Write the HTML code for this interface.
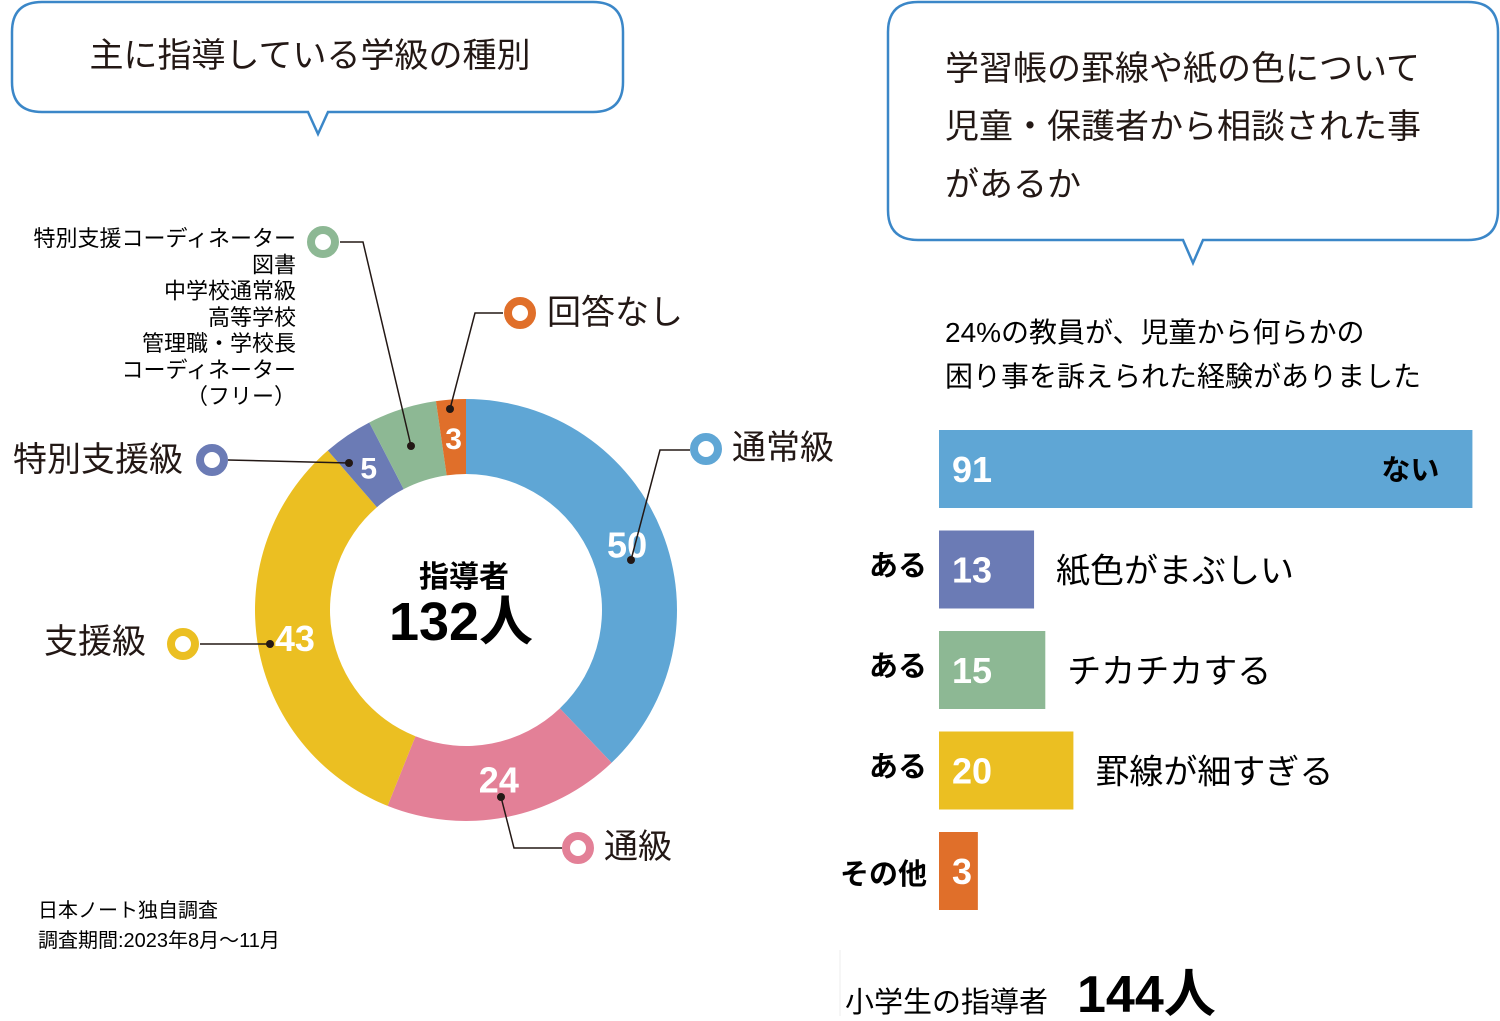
<!DOCTYPE html>
<html><head><meta charset="utf-8">
<style>
body{margin:0;width:1500px;height:1016px;background:#fff;overflow:hidden;font-family:"Liberation Sans","Noto Sans CJK JP",sans-serif;color:#231815}
svg text{font-family:"Liberation Sans","Noto Sans CJK JP",sans-serif}
</style></head><body>
<svg id="chart" width="1500" height="1016">
<g>
<path d="M42,2 H593 Q623,2 623,32 V82 Q623,112 593,112 H328 L318,134 L308,112 H42 Q12,112 12,82 V32 Q12,2 42,2 Z" fill="#fff" stroke="#3b87c8" stroke-width="2.5"/>
<text x="310" y="67" font-size="34" text-anchor="middle" fill="#231815">主に指導している学級の種別</text>
</g>
<g>
<path d="M918,2 H1468 Q1498,2 1498,32 V210 Q1498,240 1468,240 H1203 L1193,263 L1183,240 H918 Q888,240 888,210 V32 Q888,2 918,2 Z" fill="#fff" stroke="#3b87c8" stroke-width="2.5"/>
<text x="945" y="80" font-size="34" fill="#231815">学習帳の罫線や紙の色について</text>
<text x="945" y="138" font-size="34" fill="#231815">児童・保護者から相談された事</text>
<text x="945" y="196" font-size="34" fill="#231815">があるか</text>
</g>
<g id="donut"></g>
<g id="bars"></g>
<text x="945" y="342" font-size="28">24%の教員が、児童から何らかの</text>
<text x="945" y="386" font-size="28">困り事を訴えられた経験がありました</text>
<text x="38" y="917" font-size="20">日本ノート独自調査</text>
<text x="38" y="947" font-size="20">調査期間:2023年8月〜11月</text>
<line x1="840" y1="950" x2="840" y2="1016" stroke="#eee" stroke-width="1"/>
<text x="845" y="1012" font-size="29">小学生の指導者</text>
<text x="1077" y="1012" font-size="52" font-weight="bold">144人</text>
</svg>
<script>
const NS='http://www.w3.org/2000/svg';
function mk(tag,attrs,parent,txt){const e=document.createElementNS(NS,tag);for(const k in attrs)e.setAttribute(k,attrs[k]);if(txt!==undefined)e.textContent=txt;parent.appendChild(e);return e;}

// Donut data
const donutCategories=['通常級','通級','支援級','特別支援級','その他','回答なし'];
const donutValues=[50,24,43,5,7,3];
const donutColors=['#5fa6d5','#e38097','#ebbf22','#6b7bb5','#8db894','#e06f2a'];
const cx=466,cy=610,R=211,r=136;
const dg=document.getElementById('donut');
const total=donutValues.reduce((a,b)=>a+b,0);
function pt(a,rad){return [cx+rad*Math.sin(a),cy-rad*Math.cos(a)];}
let acc=0;
const mids=[];
donutValues.forEach((v,i)=>{
  const a0=acc/total*2*Math.PI;acc+=v;const a1=acc/total*2*Math.PI;
  const large=(a1-a0)>Math.PI?1:0;
  const [x0,y0]=pt(a0,R),[x1,y1]=pt(a1,R),[x2,y2]=pt(a1,r),[x3,y3]=pt(a0,r);
  const p=mk('path',{d:`M${x0},${y0} A${R},${R} 0 ${large} 1 ${x1},${y1} L${x2},${y2} A${r},${r} 0 ${large} 0 ${x3},${y3} Z`,fill:donutColors[i]},dg);
  
  
  mids.push((a0+a1)/2);
});
// value labels
const labelRadius=[173,173,173,150,0,183];
donutValues.forEach((v,i)=>{
  if(i===4)return;
  const [x,y]=pt(mids[i],(R+r)/2);
  const t=mk('text',{x:x,y:y+12,'font-size':i===3||i===5?30:36,'font-weight':'bold',fill:'#fff','text-anchor':'middle'},dg,String(v));
  
  
});
// leader lines and legends (positions of callouts)
const callouts=[
 {pts:[[631,560],[660,450],[690,450]],ring:[706,449],label:'通常級',lx:732,ly:459,fs:34,anchor:'start'},
 {pts:[[501,797],[514,848],[562,848]],ring:[578,848],label:'通級',lx:604,ly:858,fs:34,anchor:'start'},
 {pts:[[270,644],[200,644]],ring:[183,644],label:'支援級',lx:146,ly:653,fs:34,anchor:'end'},
 {pts:[[349,463],[228,460]],ring:[212,460],label:'特別支援級',lx:183,ly:471,fs:34,anchor:'end'},
 {pts:[[411,446],[363,242],[340,242]],ring:[323,242],label:null},
 {pts:[[450,409],[475,313],[503,313]],ring:[520,313],label:'回答なし',lx:547,ly:324,fs:34,anchor:'start'}
];
callouts.forEach((c,i)=>{
  const pl=mk('polyline',{points:c.pts.map(p=>p.join(',')).join(' '),fill:'none',stroke:'#231815','stroke-width':1.5},dg);
  
  
  const d=mk('circle',{cx:c.pts[0][0],cy:c.pts[0][1],r:4,fill:'#231815'},dg);
  
  
  const ring=mk('circle',{cx:c.ring[0],cy:c.ring[1],r:12,fill:'#fff',stroke:donutColors[i],'stroke-width':8},dg);
  
  
  if(c.label){
    const t=mk('text',{x:c.lx,y:c.ly,'font-size':c.fs,'text-anchor':c.anchor,fill:'#231815'},dg,c.label);
    
    
  }
});
const otherLines=['特別支援コーディネーター','図書','中学校通常級','高等学校','管理職・学校長','コーディネーター','（フリー）'];
otherLines.forEach((s,k)=>{
  const t=mk('text',{x:296,y:246+k*26.3,'font-size':22,'text-anchor':'end'},dg,s);
  
  
});
const c1=mk('text',{x:464,y:587,'font-size':30,'font-weight':'bold','text-anchor':'middle'},dg,'指導者');


const c2=mk('text',{x:461,y:640,'font-size':54,'font-weight':'bold','text-anchor':'middle'},dg,'132人');



// Bar data
const barValues=[91,13,15,20,3];
const barLabels=['ない','紙色がまぶしい','チカチカする','罫線が細すぎる',''];
const barPrefixes=['','ある','ある','ある','その他'];
const barColors=['#5fa6d5','#6b7bb5','#8db894','#ebbf22','#e06f2a'];
const bg=document.getElementById('bars');
const x0=939,barH=78;
function xw(v){return 22+v*5.62;}
function yb(i){return 430+i*100.5;}
barValues.forEach((v,i)=>{
  const y=yb(i),w=xw(v);
  const rc=mk('rect',{x:x0,y:y,width:w,height:barH,fill:barColors[i]},bg);
  
  
  const vt=mk('text',{x:x0+13,y:y+52,'font-size':36,'font-weight':'bold',fill:'#fff'},bg,String(v));
  
  
  if(i===0){
    const t=mk('text',{x:x0+w-33,y:y+50,'font-size':29,'font-weight':'bold','text-anchor':'end'},bg,barLabels[i]);
    
    
  }else if(barLabels[i]){
    const t=mk('text',{x:x0+w+22,y:y+52,'font-size':34},bg,barLabels[i]);
    
    
  }
  if(barPrefixes[i]){
    const t=mk('text',{x:927,y:y+(i===4?52:45),'font-size':29,'font-weight':'bold','text-anchor':'end'},bg,barPrefixes[i]);
    
    
  }
});
</script>
</body></html>
